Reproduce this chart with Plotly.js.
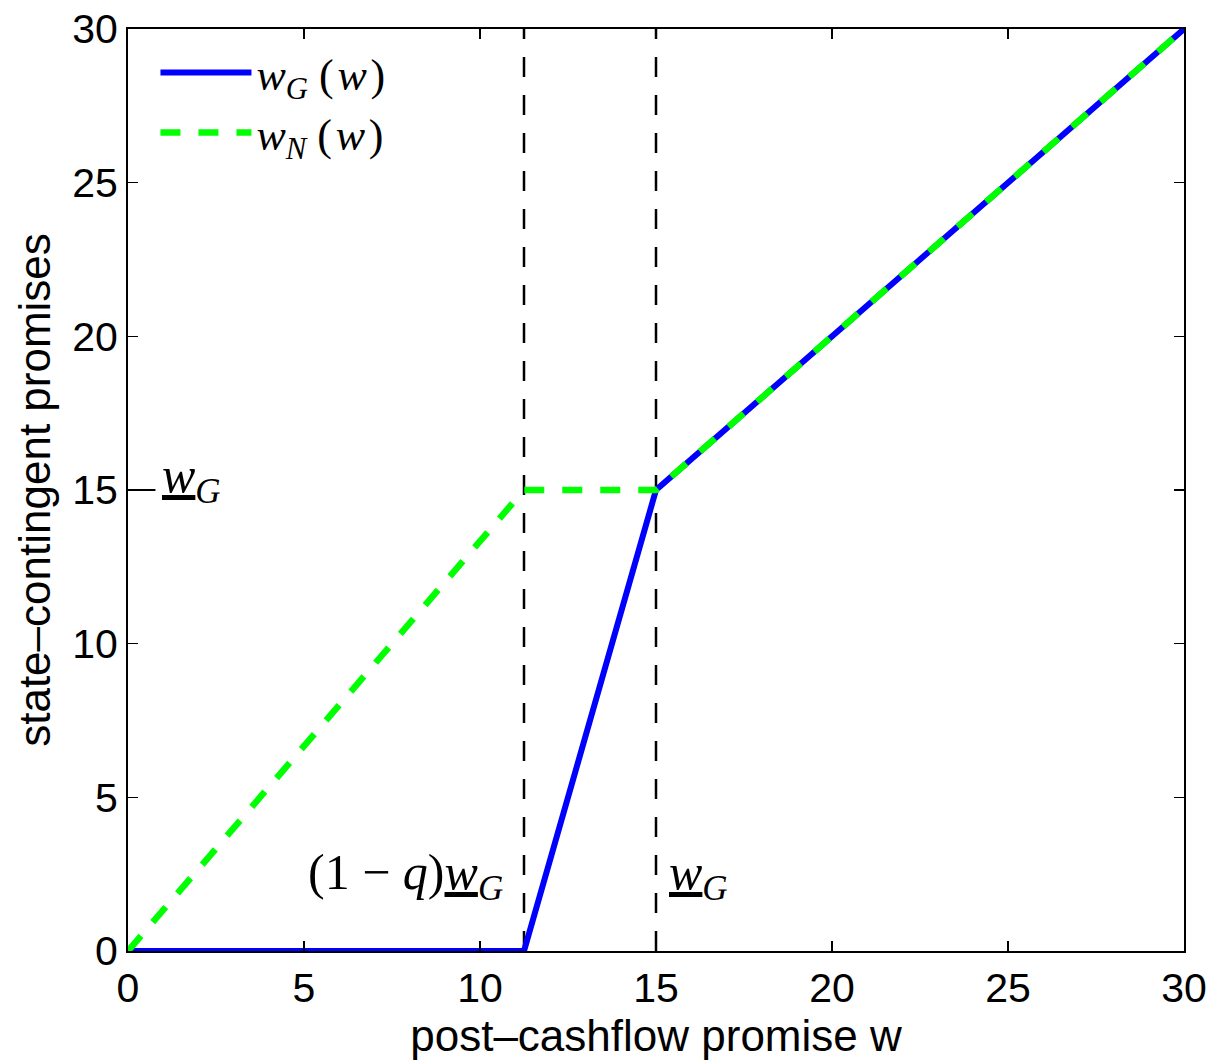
<!DOCTYPE html>
<html>
<head>
<meta charset="utf-8">
<script src="https://cdn.plot.ly/plotly-3.0.1.min.js"></script>
<style>html,body{margin:0;padding:0;background:#fff;}#chart{width:1214px;height:1064px;}</style>
</head>
<body>
<div id="chart"></div>
<script>
// Data
var wGx = [0, 11.25, 15, 30];
var wGy = [0, 0, 15, 30];
var wNx = [0, 11.25, 15, 30];
var wNy = [0, 15, 15, 30];
var vlineX = [11.25, 15];
var vlineY = [0, 30];
var xTicks = [0, 5, 10, 15, 20, 25, 30];
var yTicks = [0, 5, 10, 15, 20, 25, 30];
var wGbar = 15;

var mathFont = 'Liberation Serif, Times New Roman, serif';
var sansFont = 'Liberation Sans, Arial, Helvetica, sans-serif';

var traces = [];
vlineX.forEach(function (vx) {
  traces.push({
    x: [vx, vx], y: vlineY, mode: 'lines', showlegend: false, hoverinfo: 'skip',
    line: {color: '#000000', width: 2.5, dash: '20px,18px'}
  });
});
traces.push({
  x: wGx, y: wGy, mode: 'lines', name: '<i>w</i><sub><i>G</i></sub>\u2005(\u200a<i>w</i>\u200a)',
  line: {color: '#0000FF', width: 6}
});
traces.push({
  x: wNx, y: wNy, mode: 'lines', name: '<i>w</i><sub><i>N</i></sub>\u2005(\u200a<i>w</i>\u200a)',
  line: {color: '#00FF00', width: 6.5, dash: '20px,18px'}
});

var underW = '<u><i>w</i></u><sub><i>G</i></sub>';

var layout = {
  width: 1214, height: 1064,
  margin: {l: 128, r: 30, t: 29, b: 113},
  paper_bgcolor: '#ffffff', plot_bgcolor: '#ffffff',
  showlegend: true,
  legend: {
    x: 0.026, y: 0.991, xanchor: 'left', yanchor: 'top',
    bgcolor: 'rgba(0,0,0,0)', borderwidth: 0,
    font: {family: mathFont, size: 44, color: '#000'},
    itemwidth: 91
  },
  xaxis: {
    range: [0, 30], tickvals: xTicks, ticktext: xTicks.map(String),
    ticks: 'inside', ticklen: 10, tickwidth: 1.5, tickcolor: '#000',
    showline: true, linecolor: '#000', linewidth: 2, mirror: 'ticks',
    showgrid: false, zeroline: false,
    tickfont: {family: sansFont, size: 41, color: '#000'},
    title: {text: 'post\u2013cashflow promise w', font: {family: sansFont, size: 44, color: '#000'}, standoff: 4}
  },
  yaxis: {
    range: [0, 30], tickvals: yTicks, ticktext: yTicks.map(String),
    ticks: 'inside', ticklen: 10, tickwidth: 1.5, tickcolor: '#000',
    showline: true, linecolor: '#000', linewidth: 2, mirror: 'ticks',
    showgrid: false, zeroline: false,
    tickfont: {family: sansFont, size: 41, color: '#000'},
    title: {text: 'state\u2013contingent promises', font: {family: sansFont, size: 44, color: '#000'}, standoff: 8}
  },
  shapes: [
    {type: 'line', xref: 'x', yref: 'y', x0: 0, x1: 0.78, y0: wGbar, y1: wGbar,
     line: {color: '#000', width: 2}}
  ],
  annotations: [
    {xref: 'x', yref: 'y', x: 0.92, y: wGbar, xanchor: 'left', yanchor: 'middle', yshift: 11,
     text: underW, showarrow: false, font: {family: mathFont, size: 50, color: '#000'}},
    {xref: 'x', yref: 'y', x: vlineX[0] - 0.55, y: 2.45, xanchor: 'right', yanchor: 'middle',
     text: '(1 \u2212 <i>q</i>)' + underW, showarrow: false, font: {family: mathFont, size: 50, color: '#000'}},
    {xref: 'x', yref: 'y', x: vlineX[1] + 0.3, y: 2.45, xanchor: 'left', yanchor: 'middle',
     text: underW, showarrow: false, font: {family: mathFont, size: 50, color: '#000'}}
  ]
};

Plotly.newPlot('chart', traces, layout, {displayModeBar: false, staticPlot: true});
</script>
</body>
</html>
